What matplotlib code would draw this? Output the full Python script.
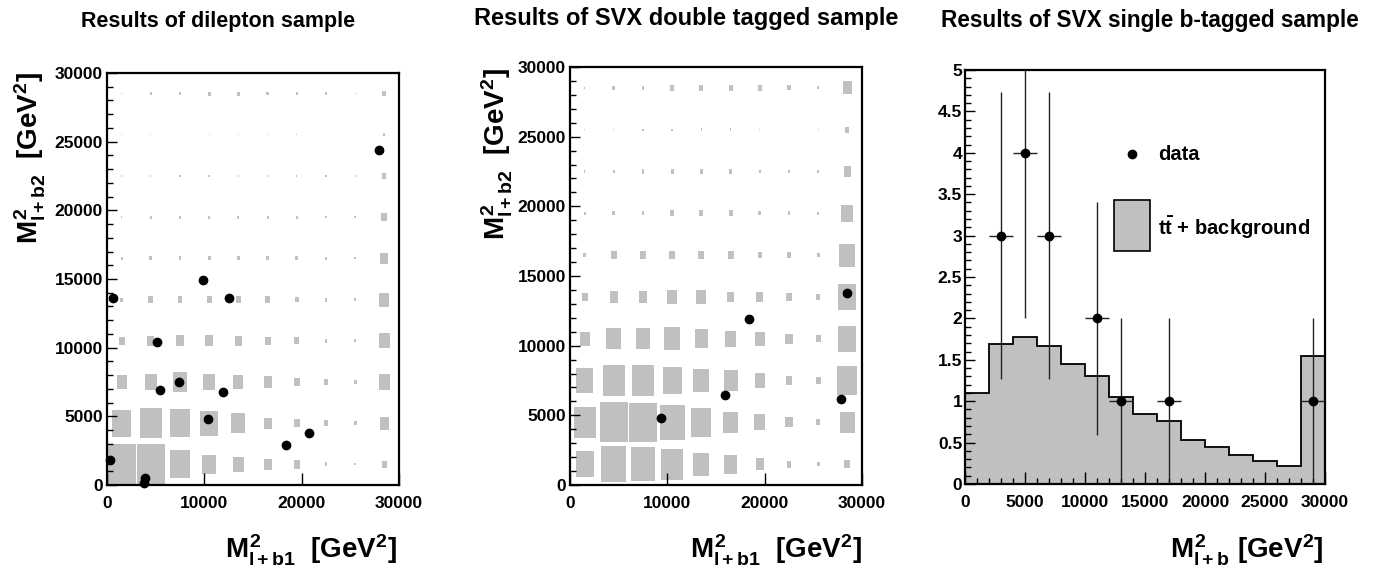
import numpy as np
import matplotlib
matplotlib.use("Agg")
import matplotlib.pyplot as plt
from matplotlib.ticker import MultipleLocator
from matplotlib.patches import Rectangle
from matplotlib.lines import Line2D

plt.rcParams['font.family'] = ['Liberation Sans', 'DejaVu Sans']
plt.rcParams['font.weight'] = 'bold'
plt.rcParams['mathtext.fontset'] = 'custom'
plt.rcParams['mathtext.rm'] = 'Liberation Sans:bold'
plt.rcParams['mathtext.it'] = 'Liberation Sans:bold'
plt.rcParams['mathtext.bf'] = 'Liberation Sans:bold'
plt.rcParams['mathtext.sf'] = 'Liberation Sans:bold'

GRAY = "#c0c0c0"

# 2D bins: 10 x 10 cells of 3000 GeV^2, relative content (rows: bottom -> top)
bin_edges_2d = np.arange(0, 30001, 3000)

dilepton_mc = [
    [0.97, 0.97, 0.68, 0.48, 0.38, 0.27, 0.20, 0.10, 0.05, 0.17],
    [0.65, 0.74, 0.68, 0.61, 0.48, 0.27, 0.20, 0.14, 0.10, 0.31],
    [0.34, 0.41, 0.47, 0.41, 0.34, 0.27, 0.20, 0.14, 0.10, 0.37],
    [0.20, 0.24, 0.27, 0.27, 0.24, 0.20, 0.17, 0.10, 0.07, 0.37],
    [0.10, 0.17, 0.17, 0.17, 0.17, 0.17, 0.14, 0.10, 0.07, 0.34],
    [0.07, 0.10, 0.10, 0.10, 0.10, 0.10, 0.10, 0.07, 0.05, 0.27],
    [0.05, 0.07, 0.07, 0.07, 0.07, 0.07, 0.07, 0.06, 0.05, 0.20],
    [0.03, 0.04, 0.04, 0.05, 0.04, 0.04, 0.04, 0.04, 0.03, 0.14],
    [0.02, 0.03, 0.03, 0.03, 0.03, 0.03, 0.03, 0.03, 0.02, 0.07],
    [0.03, 0.06, 0.07, 0.10, 0.10, 0.08, 0.08, 0.06, 0.04, 0.14],
]
dilepton_x = [580, 27960, 9830, 12580, 5130, 5480, 7380, 11870, 10370, 18370, 20710, 340, 3950, 3840]
dilepton_y = [13590, 24360, 14900, 13590, 10390, 6940, 7480, 6770, 4780, 2890, 3760, 1820, 490, 120]

svx2_mc = [
    [0.61, 0.85, 0.82, 0.74, 0.55, 0.45, 0.27, 0.17, 0.10, 0.20],
    [0.75, 0.96, 0.93, 0.85, 0.68, 0.51, 0.38, 0.24, 0.14, 0.51],
    [0.58, 0.75, 0.74, 0.65, 0.55, 0.48, 0.34, 0.20, 0.17, 0.68],
    [0.34, 0.51, 0.51, 0.55, 0.45, 0.38, 0.34, 0.24, 0.17, 0.62],
    [0.20, 0.27, 0.27, 0.34, 0.34, 0.24, 0.24, 0.20, 0.14, 0.62],
    [0.10, 0.20, 0.20, 0.20, 0.20, 0.20, 0.14, 0.14, 0.10, 0.55],
    [0.07, 0.10, 0.10, 0.14, 0.14, 0.14, 0.10, 0.10, 0.07, 0.41],
    [0.05, 0.08, 0.10, 0.10, 0.10, 0.10, 0.08, 0.08, 0.06, 0.24],
    [0.03, 0.03, 0.05, 0.05, 0.06, 0.06, 0.03, 0.02, 0.03, 0.14],
    [0.03, 0.10, 0.10, 0.14, 0.14, 0.14, 0.14, 0.12, 0.07, 0.31],
]
svx2_x = [28430, 18420, 15930, 27880, 9320]
svx2_y = [13770, 11900, 6460, 6150, 4790]

# 1D histogram: 15 bins of 2000 GeV^2
hist_edges = np.arange(0, 30001, 2000)
svx1_mc = [1.10, 1.69, 1.78, 1.67, 1.45, 1.30, 1.05, 0.845, 0.76, 0.535,
           0.45, 0.35, 0.28, 0.22, 1.54]
svx1_x = [3000, 5000, 7000, 11000, 13000, 17000, 29000]
svx1_y = [3, 4, 3, 2, 1, 1, 1]
svx1_yerr = [1.73, 2.0, 1.73, 1.41, 1.0, 1.0, 1.0]
svx1_xerr = [1000, 1000, 1000, 1000, 1000, 1000, 1000]

W, H = 1380, 569
fig = plt.figure(figsize=(W / 100, H / 100), dpi=100)


def px_axes(x0, y0, x1, y1):
    # pixel box (left, top, right, bottom) -> figure fraction
    return fig.add_axes([x0 / W, 1 - y1 / H, (x1 - x0) / W, (y1 - y0) / H])


def style_frame(ax):
    for s in ax.spines.values():
        s.set_linewidth(1.6)
    ax.tick_params(which='both', direction='in', top=False, right=False,
                   labelsize=12.5, width=1.0)
    for lab in ax.get_xticklabels() + ax.get_yticklabels():
        lab.set_fontweight('bold')


def draw_boxes(ax, content, edges):
    content = np.array(content)
    centers = 0.5 * (edges[:-1] + edges[1:])
    cw = edges[1] - edges[0]
    for r, yc in enumerate(centers):
        v = content[r]
        ax.bar(centers, cw * v, width=cw * v, bottom=yc - cw * v / 2,
               color=GRAY, linewidth=0, zorder=1)


def setup_2d(ax):
    ax.set_xlim(0, 30000)
    ax.set_ylim(0, 30000)
    ax.set_xticks([0, 10000, 20000, 30000])
    ax.yaxis.set_major_locator(MultipleLocator(5000))
    ax.yaxis.set_minor_locator(MultipleLocator(1000))
    style_frame(ax)
    ax.tick_params(axis='x', which='major', length=9, pad=8)
    ax.tick_params(axis='y', which='major', length=7, pad=3)
    ax.tick_params(axis='y', which='minor', length=4)


# --- panel 1: dilepton
ax1 = px_axes(107, 73, 399, 485)
draw_boxes(ax1, dilepton_mc, bin_edges_2d)
ax1.plot(dilepton_x, dilepton_y, 'o', color='black', ms=6, zorder=3, clip_on=False)
setup_2d(ax1)

# --- panel 2: SVX double tagged
ax2 = px_axes(570, 67, 862, 485)
draw_boxes(ax2, svx2_mc, bin_edges_2d)
ax2.plot(svx2_x, svx2_y, 'o', color='black', ms=6, zorder=3)
setup_2d(ax2)

# --- panel 3: SVX single b-tagged
ax3 = px_axes(965, 70, 1325, 484)
ax3.stairs(svx1_mc, hist_edges, fill=True, color=GRAY, zorder=1)
ax3.stairs(svx1_mc, hist_edges, color='black', linewidth=1.3, zorder=2)
ax3.errorbar(svx1_x, svx1_y, yerr=svx1_yerr, xerr=svx1_xerr, fmt='o',
             color='black', ecolor='#222222', elinewidth=1, capsize=0, ms=6, zorder=3)
ax3.set_xlim(0, 30000)
ax3.set_ylim(0, 5)
ax3.xaxis.set_major_locator(MultipleLocator(5000))
ax3.xaxis.set_minor_locator(MultipleLocator(1000))
ax3.yaxis.set_major_locator(MultipleLocator(0.5))
ax3.yaxis.set_minor_locator(MultipleLocator(0.1))
ax3.yaxis.set_major_formatter(plt.FuncFormatter(lambda v, p: ('%g' % v)))
style_frame(ax3)
ax3.tick_params(axis='x', which='major', length=9, pad=8)
ax3.tick_params(axis='x', which='minor', length=4)
ax3.tick_params(axis='y', which='major', length=7, pad=2)
ax3.tick_params(axis='y', which='minor', length=4)

# legend of panel 3
ax3.add_line(Line2D([0.463], [0.797], marker='o', color='black', ms=6,
                    transform=ax3.transAxes))
ax3.text(0.536, 0.797, "data", transform=ax3.transAxes, fontsize=14.5,
         fontweight='bold', va='center', ha='left')
ax3.add_patch(Rectangle((0.414, 0.563), 0.101, 0.122, transform=ax3.transAxes,
                        facecolor=GRAY, edgecolor='black', linewidth=1.2, zorder=4))
ax3.text(0.536, 0.619, r"$t\bar{t}$ + background", transform=ax3.transAxes,
         fontsize=14.5, fontweight='bold', va='center', ha='left')

# titles
fig.text(218 / W, 1 - 21 / H, "Results of dilepton sample", fontsize=15.5,
         fontweight='bold', ha='center', va='center')
fig.text(686 / W, 1 - 18 / H, "Results of SVX double tagged sample", fontsize=17,
         fontweight='bold', ha='center', va='center')
fig.text(1150 / W, 1 - 21 / H, "Results of SVX single b-tagged sample", fontsize=16.3,
         fontweight='bold', ha='center', va='center')

# axis titles
fig.text(397 / W, 1 - 559 / H, r"$M^{2}_{l+b1}$  [GeV$^{2}$]", fontsize=20,
         fontweight='bold', ha='right', va='baseline')
fig.text(862 / W, 1 - 559 / H, r"$M^{2}_{l+b1}$  [GeV$^{2}$]", fontsize=20,
         fontweight='bold', ha='right', va='baseline')
fig.text(1323 / W, 1 - 559 / H, r"$M^{2}_{l+b}$ [GeV$^{2}$]", fontsize=20,
         fontweight='bold', ha='right', va='baseline')
fig.text(30 / W, 1 - 72 / H, r"$M^{2}_{l+b2}$  [GeV$^{2}$]", fontsize=20,
         fontweight='bold', ha='center', va='top', rotation=90)
fig.text(497 / W, 1 - 68 / H, r"$M^{2}_{l+b2}$  [GeV$^{2}$]", fontsize=20,
         fontweight='bold', ha='center', va='top', rotation=90)

fig.savefig("out.png", dpi=100)
